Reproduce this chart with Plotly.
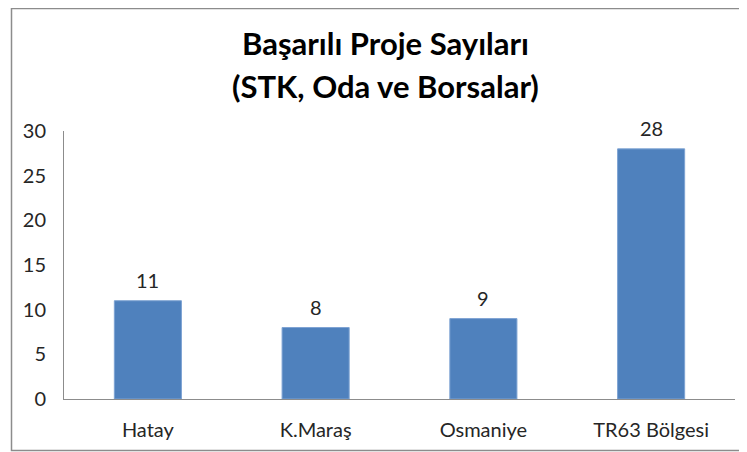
import plotly.graph_objects as go

categories = ["Hatay", "K.Maraş", "Osmaniye", "TR63 Bölgesi"]
values = [11, 8, 9, 28]
y_ticks = [0, 5, 10, 15, 20, 25, 30]
title_lines = ["Başarılı Proje Sayıları", "(STK, Oda ve Borsalar)"]

FONT = "Lato, 'Open Sans', sans-serif"
W, H = 747, 452
OFF = 8  # page body margin offset
ML, MR, MT, MB = 64 - OFF, 12 + OFF, 131 - OFF, 53 + OFF
PW, PH = W - ML - MR, H - MT - MB

fig = go.Figure(go.Bar(
    x=categories, y=values,
    marker=dict(color="#4F81BD", line=dict(color="#7EA3D3", width=1)),
    width=0.4, hoverinfo="x+y",
))

def px_x(px):  # screen px -> paper
    return (px - OFF - ML) / PW

def px_y(py):
    return (H - MB - (py - OFF)) / PH

label_anns = [dict(x=c, y=v, xref="x", yref="y", text=str(v), showarrow=False,
                   yshift=21, font=dict(size=20, family=FONT, color="#262626"),
                   yanchor="middle")
              for c, v in zip(categories, values)]

fig.update_layout(
    width=W, height=H,
    margin=dict(l=ML, r=MR, t=MT, b=MB, autoexpand=False),
    paper_bgcolor="white", plot_bgcolor="white",
    showlegend=False,
    font=dict(family=FONT, color="#262626", size=20),
    xaxis=dict(showline=True, linecolor="#8C8C8C", linewidth=1, ticks="",
               showgrid=False, tickfont=dict(size=20), ticklabelstandoff=13,
               automargin=False),
    yaxis=dict(range=[0, 30], tickvals=y_ticks, showline=True, linecolor="#8C8C8C",
               linewidth=1, ticks="", showgrid=False, zeroline=False,
               tickfont=dict(size=20), ticklabelstandoff=13, automargin=False),
    shapes=[dict(type="rect", xref="paper", yref="paper",
                 x0=px_x(11.5), x1=px_x(900), y0=px_y(450.5), y1=px_y(OFF + 0.5),
                 line=dict(color="#8C8C8C", width=1.5), fillcolor="rgba(0,0,0,0)",
                 layer="below")],
    annotations=[
        dict(text="<b>%s</b>" % title_lines[0], xref="paper", yref="paper",
             x=px_x(385), y=px_y(43), showarrow=False,
             font=dict(size=31, family=FONT, color="black"), xanchor="center", yanchor="middle"),
        dict(text="<b>%s</b>" % title_lines[1], xref="paper", yref="paper",
             x=px_x(385), y=px_y(86), showarrow=False,
             font=dict(size=31, family=FONT, color="black"), xanchor="center", yanchor="middle"),
    ] + label_anns,
)

fig.write_html("out.html")
